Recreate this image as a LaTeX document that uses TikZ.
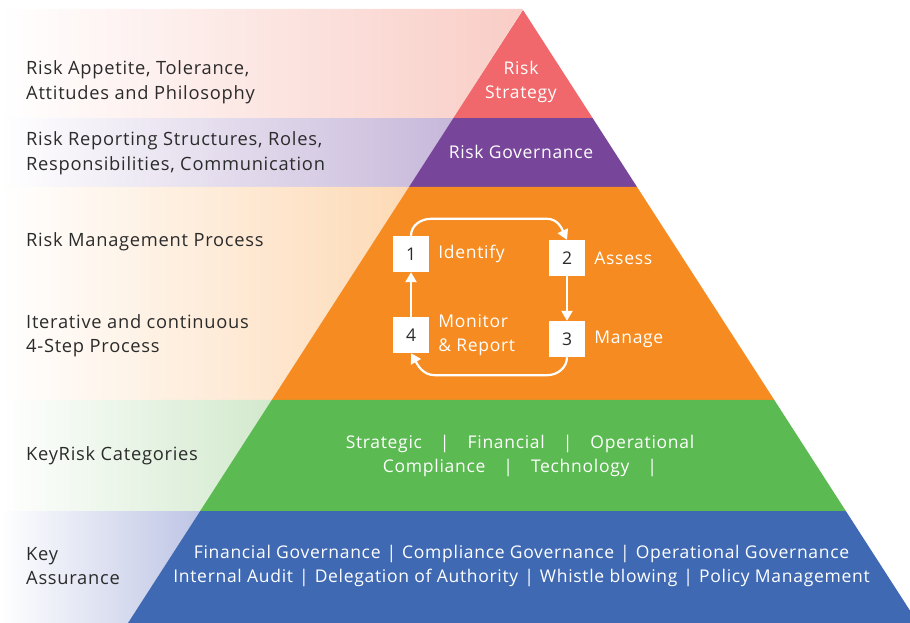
\documentclass[tikz,border=0pt]{standalone}
\usepackage{fontspec}
\setmainfont{Open Sans}[LetterSpace=4]
\usetikzlibrary{arrows.meta,positioning,calc}
\definecolor{stratred}{RGB}{240,104,107}
\definecolor{govpurple}{RGB}{119,69,154}
\definecolor{mgmtorange}{RGB}{246,140,33}
\definecolor{catgreen}{RGB}{91,186,81}
\definecolor{assblue}{RGB}{63,105,179}
\definecolor{bgred}{RGB}{249,205,198}
\definecolor{bgpurple}{RGB}{199,184,218}
\definecolor{bgorange}{RGB}{253,218,182}
\definecolor{bggreen}{RGB}{210,233,205}
\definecolor{bgblue}{RGB}{190,197,229}
\definecolor{txtgray}{RGB}{43,43,43}

\begin{document}
\begin{tikzpicture}[x=1pt, y=1pt,
        every node/.style={font=\fontsize{17.5}{24}\selectfont, inner sep=0pt},
        lbl/.style={anchor=west, align=left, text=txtgray, font=\fontsize{18.3}{24.5}\selectfont},
        ptxt/.style={align=center, text=white},
        numbox/.style={fill=white, minimum size=36pt, text=txtgray},
        steplbl/.style={anchor=west, align=left, text=white},
        cyc/.style={-{Triangle[length=10pt,width=11pt]}, line width=2.2pt, white}
    ]
    \useasboundingbox (0,0) rectangle (910,-623);
    \clip (0,0) rectangle (910,-623);

    % pyramid corners and band edges
    \coordinate (apex) at (523,-10);
    \coordinate (bl) at (128,-623);
    \coordinate (br) at (918,-623);
    \foreach \t [count=\i] in {0.1762,0.2887,0.6362,0.8173} {
        \coordinate (l\i) at ($(apex)!\t!(bl)$);
        \coordinate (r\i) at ($(apex)!\t!(br)$);
    }

    % left backgrounds
    \shade[left color=white, right color=bgred] (0,-9) -- (523,-9) -- (l1) -- (0,-118) -- cycle;
    \shade[left color=white, right color=bgpurple] (0,-118) -- (l1) -- (l2) -- (0,-187) -- cycle;
    \shade[left color=white, right color=bgorange] (0,-187) -- (l2) -- (l3) -- (0,-400) -- cycle;
    \shade[left color=white, right color=bggreen] (0,-400) -- (l3) -- (l4) -- (0,-511) -- cycle;
    \shade[left color=white, right color=bgblue] (0,-511) -- (l4) -- (bl) -- (0,-623) -- cycle;

    % pyramid bands
    \fill[stratred] (apex) -- (r1) -- (l1) -- cycle;
    \fill[govpurple] (l1) -- (r1) -- (r2) -- (l2) -- cycle;
    \fill[mgmtorange] (l2) -- (r2) -- (r3) -- (l3) -- cycle;
    \fill[catgreen] (l3) -- (r3) -- (r4) -- (l4) -- cycle;
    \fill[assblue] (l4) -- (r4) -- (br) -- (bl) -- cycle;

    % left labels
    \node[lbl] (appetite) at (26,-82) {Risk Appetite, Tolerance,\\Attitudes and Philosophy};
    \node[lbl] (reporting) at (26,-153) {Risk Reporting Structures, Roles,\\Responsibilities, Communication};
    \node[lbl] (process) at (26,-242) {Risk Management Process};
    \node[lbl] (iterative) at (26,-335.5) {Iterative and continuous\\4-Step Process};
    \node[lbl] (categories) at (26,-456) {KeyRisk Categories};
    \node[lbl] (assurance) at (26,-566) {Key\\Assurance};

    % pyramid labels
    \node[ptxt] (strategy) at (521,-82) {Risk\\Strategy};
    \node[ptxt] (governance) at (521,-152) {Risk Governance};
    \node[ptxt] (cats) at (520,-456) {Strategic\hspace{18pt}|\hspace{18pt}Financial\hspace{18pt}|\hspace{18pt}Operational\\
        Compliance\hspace{18pt}|\hspace{18pt}Technology\hspace{18pt}|};
    \node[ptxt] (assur) at (521.5,-566) {Financial Governance\hspace{6pt}|\hspace{6pt}Compliance Governance\hspace{6pt}|\hspace{6pt}Operational Governance\\
        Internal Audit\hspace{6pt}|\hspace{6pt}Delegation of Authority\hspace{6pt}|\hspace{6pt}Whistle blowing\hspace{6pt}|\hspace{6pt}Policy Management};

    % 4-step cycle
    \node[numbox] (n1) at (411,-254) {1};
    \node[numbox] (n2) at (567,-258) {2};
    \node[numbox] (n3) at (567,-339) {3};
    \node[numbox] (n4) at (411,-335) {4};
    \node[steplbl, right=9pt of n1] (identify) {Identify};
    \node[steplbl, right=9pt of n2] (assess) {Assess};
    \node[steplbl, right=9pt of n3] (manage) {Manage};
    \node[steplbl, right=9pt of n4] (monitor) {Monitor\\\& Report};

    \draw[cyc] (n1.north) to[out=90,in=180] ($(n1.north)+(20,17)$) -- ($(n2.north)+(-20,21)$) to[out=0,in=115] (n2.north);
    \draw[cyc] (n2.south) -- (n3.north);
    \draw[cyc] (n3.south) to[out=-90,in=0] ($(n3.south)+(-20,-18)$) -- ($(n4.south)+(24,-22)$) to[out=180,in=-60] (n4.south);
    \draw[cyc] (n4.north) -- (n1.south);
\end{tikzpicture}
\end{document}
